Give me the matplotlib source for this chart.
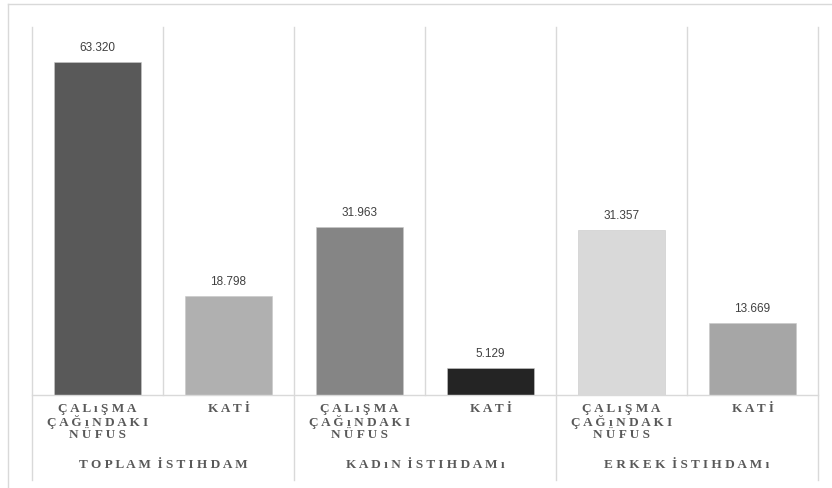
import matplotlib.pyplot as plt
import matplotlib.transforms as mtransforms
from matplotlib.lines import Line2D

# kategoriler ve değerler (bin kişi)
groups = ["TOPLAM İSTIHDAM", "KADıN İSTIHDAMı", "ERKEK İSTIHDAMı"]
sub_labels = ["ÇALıŞMA\nÇAĞıNDAKI\nNÜFUS", "KATİ"] * 3
values = [63.320, 18.798, 31.963, 5.129, 31.357, 13.669]
value_texts = ["63.320", "18.798", "31.963", "5.129", "31.357", "13.669"]
colors = ["#595959", "#b0b0b0", "#858585", "#242424", "#d9d9d9", "#a6a6a6"]

grid_c = "#d9d9d9"
text_c = "#595959"
serif = ["Liberation Serif", "DejaVu Serif"]


def spaced(s):
    # harf aralığı için harflerin arasına boşluk
    out = []
    for line in s.split("\n"):
        out.append("  ".join(" ".join(list(w)) for w in line.split(" ")))
    return "\n".join(out)


W, H = 832, 488
fig = plt.figure(figsize=(W / 100, H / 100), dpi=100)
ax = fig.add_axes([32 / W, 1 - 395 / H, (818 - 32) / W, (395 - 27) / H])

x = list(range(len(values)))
ax.bar(x, values, width=0.67, color=colors, edgecolor="#c8c8c8", linewidth=0.4, zorder=3)
ax.set_xlim(-0.5, len(values) - 0.5)
ax.set_ylim(0, 70)

for xi, v, t in zip(x, values, value_texts):
    ax.annotate(t, (xi, v), xytext=(0, 6), textcoords="offset points",
                ha="center", va="bottom", fontsize=8.5, color="#404040",
                family=["Liberation Sans", "DejaVu Sans"])

for s in ax.spines.values():
    s.set_visible(False)
ax.set_yticks([])
ax.set_xticks(x)
ax.set_xticklabels([spaced(s) for s in sub_labels], family=serif, fontweight="bold",
                   fontsize=9.5, color=text_c, linespacing=1.0, va="top")
ax.tick_params(axis="x", length=0, pad=6)

trans = mtransforms.blended_transform_factory(ax.transData, ax.transAxes)
# dikey ayırıcı çizgiler
for b in [i - 0.5 for i in range(len(values) + 1)]:
    low = -0.232 if int(b + 0.5) % 2 == 0 else 0
    ax.add_line(Line2D([b, b], [low, 1], transform=trans, color=grid_c, lw=1,
                       clip_on=False, zorder=1))
ax.add_line(Line2D([-0.5, len(values) - 0.5], [0, 0], transform=trans, color=grid_c,
                   lw=1, clip_on=False, zorder=4))

for gi, g in enumerate(groups):
    ax.text(gi * 2 + 0.5, -0.19, spaced(g), transform=trans, ha="center", va="center",
            family=serif, fontweight="bold", fontsize=9.5, color=text_c)

# dış çerçeve
fig.add_artist(Line2D([8 / W, 1], [1 - 3.5 / H, 1 - 3.5 / H], color=grid_c, lw=1))
fig.add_artist(Line2D([8 / W, 8 / W], [0, 1 - 3.5 / H], color=grid_c, lw=1))

fig.savefig("out.png", dpi=100)
